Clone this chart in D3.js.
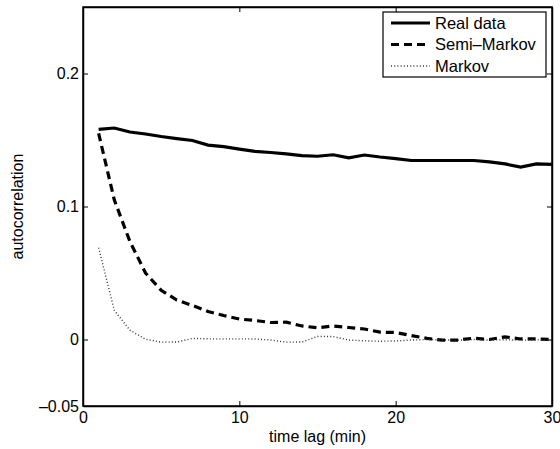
<!DOCTYPE html>
<html>
<head>
<script src="https://d3js.org/d3.v7.min.js"></script>
<style>
  body { margin: 0; background: #fff; }
  svg text { font-family: "Liberation Sans", Arial, Helvetica, sans-serif; }
</style>
</head>
<body>
<div class="chart"></div>
<script>
// lags (min)
var lags = d3.range(1, 31);

// series
var realData = [0.158, 0.159, 0.156, 0.1545, 0.1526, 0.151, 0.1496, 0.1462, 0.145, 0.1432,
                0.1414, 0.1406, 0.1395, 0.1383, 0.1378, 0.1389, 0.1366, 0.1387, 0.1372, 0.136,
                0.1346, 0.1346, 0.1346, 0.1346, 0.1346, 0.1335, 0.132, 0.1297, 0.132, 0.1316];
var semiMarkov = [0.155, 0.105, 0.0737, 0.050, 0.037, 0.0297, 0.0256, 0.021, 0.018, 0.0154,
                  0.0143, 0.0128, 0.013, 0.0102, 0.0088, 0.0102, 0.009, 0.0079, 0.0055, 0.0053,
                  0.003, 0.0008, -0.0005, -0.0004, 0.001, 0.0, 0.002, 0.0004, 0.0004, 0.0];
var markov = [0.069, 0.022, 0.007, 0.0002, -0.002, -0.0019, 0.0008, 0.0005, 0.0005, 0.0005,
              0.0004, -0.0004, -0.002, -0.0019, 0.0023, 0.0022, -0.0004, -0.001, -0.0013, -0.0011,
              -0.0004, 0.0, -0.0003, -0.0005, 0.0, -0.0004, -0.0002, -0.0005, -0.0003, -0.0004];

var seriesNames = ["Real data", "Semi\u2013Markov", "Markov"];
var xTicks = [0, 10, 20, 30];
var yTicks = [-0.05, 0, 0.1, 0.2];

var w = 560, h = 449;
var mL = 83, mR = 552, mT = 7, mB = 406;   // plot box edges

var svg = d3.select("div.chart").append("svg")
  .attr("width", w).attr("height", h);

var x = d3.scaleLinear().domain([0, 30]).range([mL, mR]);
var y = d3.scaleLinear().domain([-0.05, 0.25]).range([mB, mT]);

function fmt(d) {
  return d < 0 ? "\u2013" + String(-d) : String(d);
}

// axes (inside ticks, mirrored like matlab)
var tl = 5;
svg.append("g").attr("transform", "translate(0," + mB + ")")
  .call(d3.axisBottom(x).tickValues(xTicks).tickSizeInner(-tl).tickSizeOuter(0).tickPadding(6).tickFormat(fmt));
svg.append("g").attr("transform", "translate(0," + mT + ")")
  .call(d3.axisTop(x).tickValues(xTicks).tickSizeInner(-tl).tickSizeOuter(0).tickFormat(""));
svg.append("g").attr("transform", "translate(" + mL + ",0)")
  .call(d3.axisLeft(y).tickValues(yTicks).tickSizeInner(-tl).tickSizeOuter(0).tickPadding(4).tickFormat(fmt));
svg.append("g").attr("transform", "translate(" + mR + ",0)")
  .call(d3.axisRight(y).tickValues(yTicks).tickSizeInner(-tl).tickSizeOuter(0).tickFormat(""));

svg.selectAll(".domain").attr("stroke", "#000").attr("stroke-width", 1.5);
svg.selectAll(".tick line").attr("stroke", "#000").attr("stroke-width", 1);
svg.selectAll(".tick text").attr("font-size", "16px").attr("fill", "#000")
  .attr("font-family", "'Liberation Sans', Arial, sans-serif");

// plot box
svg.append("rect").attr("x", mL).attr("y", mT)
  .attr("width", mR - mL).attr("height", mB - mT)
  .attr("fill", "none").attr("stroke", "#000").attr("stroke-width", 1.5);

svg.append("clipPath").attr("id", "clip").append("rect")
  .attr("x", mL).attr("y", mT).attr("width", mR - mL).attr("height", mB - mT);

var line = d3.line()
  .x(function(d, i) { return x(lags[i]); })
  .y(function(d) { return y(d); });

var styles = [
  { stroke: "#000", width: 3.2, dash: null },
  { stroke: "#000", width: 3.2, dash: "8,5" },
  { stroke: "#333", width: 1.4, dash: "1,2.2" }
];
var allSeries = [realData, semiMarkov, markov];

var g = svg.append("g").attr("clip-path", "url(#clip)");
allSeries.forEach(function(s, k) {
  g.append("path").datum(s)
    .attr("d", line)
    .attr("fill", "none")
    .attr("stroke", styles[k].stroke)
    .attr("stroke-width", styles[k].width)
    .attr("stroke-dasharray", styles[k].dash);
});

// legend
var lg = svg.append("g");
lg.append("rect").attr("x", 383).attr("y", 12).attr("width", 163).attr("height", 65)
  .attr("fill", "#fff").attr("stroke", "#000").attr("stroke-width", 1.2);
seriesNames.forEach(function(name, k) {
  var yy = 23 + k * 21.5;
  lg.append("line").attr("x1", 391).attr("x2", 430).attr("y1", yy).attr("y2", yy)
    .attr("stroke", styles[k].stroke)
    .attr("stroke-width", styles[k].width)
    .attr("stroke-dasharray", styles[k].dash);
  lg.append("text").attr("x", 435).attr("y", yy).attr("dy", "0.36em")
    .attr("font-size", "16.5px").text(name);
});

// axis titles
svg.append("text").attr("x", (mL + mR) / 2).attr("y", 442)
  .attr("text-anchor", "middle").attr("font-size", "16px").text("time lag (min)");
svg.append("text").attr("transform", "translate(23," + ((mT + mB) / 2) + ") rotate(-90)")
  .attr("text-anchor", "middle").attr("font-size", "16px").text("autocorrelation");
</script>
</body>
</html>
